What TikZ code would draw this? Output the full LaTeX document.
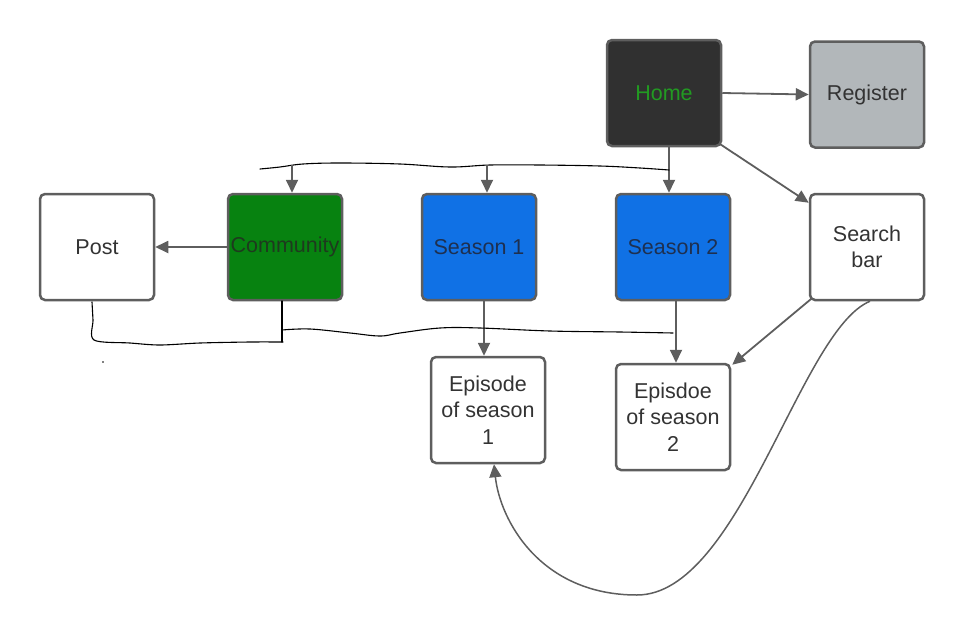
\documentclass[tikz,border=0pt]{standalone}
\usepackage{fontspec}
\setmainfont{Liberation Sans}
\usetikzlibrary{arrows.meta,calc}
\definecolor{edge}{HTML}{5E5E5E}
\definecolor{txt}{HTML}{333333}
\definecolor{homefill}{HTML}{303030}
\definecolor{hometxt}{HTML}{229A22}
\definecolor{regfill}{HTML}{B2B7BA}
\definecolor{comfill}{HTML}{078210}
\definecolor{comtxt}{HTML}{1E3A1E}
\definecolor{seafill}{HTML}{1071E5}
\definecolor{seatxt}{HTML}{1E3050}
\begin{document}
\begin{tikzpicture}[x=1pt,y=-1pt,
  box/.style={draw=edge, line width=2.5pt, rounded corners=5pt, minimum width=114pt,
    minimum height=106pt, inner sep=1pt, align=center, text=txt, fill=white,
    font=\fontsize{21.5}{26.5}\selectfont},
  arr/.style={draw=edge, line width=1.8pt, -{Triangle[length=13pt,width=12pt]}},
  thinarr/.style={draw=edge, line width=1.5pt, -{Triangle[length=13pt,width=12pt]}},
  hand/.style={black, line width=1.1pt, line cap=round}]
\useasboundingbox (0,0) rectangle (964,635);

\node[box, fill=homefill, text=hometxt] (home) at (664,93) {Home};
\node[box, fill=regfill] (reg) at (867,94.5) {Register};
\node[box] (post) at (97,247) {Post};
\node[box, fill=comfill, text=comtxt] (com) at (285,247) {Community};
\node[box, fill=seafill, text=seatxt] (s1) at (479,247) {Season 1};
\node[box, fill=seafill, text=seatxt] (s2) at (673,247) {Season 2};
\node[box] (search) at (867,247) {Search\\bar};
\node[box] (ep1) at (488,410) {Episode\\of season\\1};
\node[box] (ep2) at (673,417) {Episdoe\\of season\\2};

% arrows from Home
\draw[arr] (home.east) -- (reg.west);
\draw[arr] ([shift={(-2,-3)}]home.south east) -- ($(search.north west)+(0,10)$);
\draw[arr] ([xshift=5pt]home.south) -- ([xshift=-4pt]s2.north);

% hand-drawn top line
\draw[hand] plot[smooth, tension=0.6] coordinates {(260,169) (280,167) (303,164) (340,163) (400,164) (450,167) (490,165) (540,165) (600,166) (640,168) (669,170)};
\coordinate (t1) at (292,165);
\coordinate (t2) at (487,165);
\draw[arr] (t1) -- ([xshift=7pt]com.north);
\draw[arr] (t2) -- ([xshift=8pt]s1.north);

\draw[arr] (com.west) -- (post.east);
\draw[arr] ([xshift=5pt]s1.south) -- ([xshift=-4pt]ep1.north);
\draw[arr] ([xshift=3pt]s2.south) -- ([xshift=3pt]ep2.north);
\draw[arr] ([shift={(2,-2)}]search.south west) -- ([shift={(1,2)}]ep2.north east);

% long curve
\draw[thinarr] ([xshift=3pt]search.south) .. controls (800,330) and (740,595) .. (637,595)
  .. controls (540,595) and (500,520) .. ([xshift=6pt]ep1.south);

% hand-drawn bottom lines
\draw[hand] plot[smooth, tension=0.5] coordinates {(92,302) (93,320) (94,340) (130,343) (160,345) (200,343) (250,342) (283,342)};
\draw[hand] (282,301) -- (282,342);
\draw[hand] plot[smooth, tension=0.6] coordinates {(282,330) (310,329) (350,333) (380,336) (400,333) (440,328) (480,328) (550,331) (620,332) (673,333)};
\fill (103,362) circle (0.9pt);
\end{tikzpicture}
\end{document}
